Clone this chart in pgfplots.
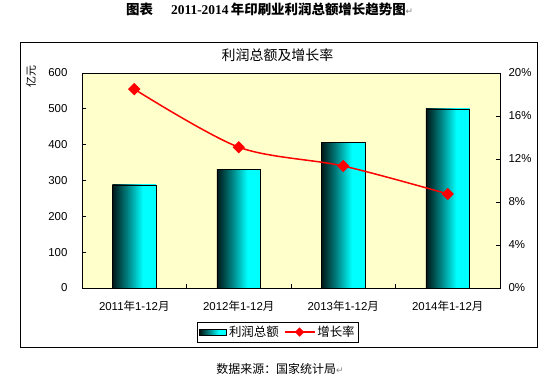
\documentclass[border=0pt]{standalone}
\usepackage{fontspec}
\setmainfont{Liberation Sans}
\newfontfamily\cjk{Noto Sans CJK SC}
\newfontfamily\tnr{Liberation Serif}
\newfontfamily\dejavu{DejaVu Sans}
\usepackage{pgfplots}
\pgfplotsset{compat=1.18}

\definecolor{plotbg}{RGB}{255,255,204}
\definecolor{bardark}{RGB}{0,22,22}
\definecolor{barmid}{RGB}{0,128,128}
\definecolor{barcyan}{RGB}{0,255,255}
\pgfdeclarehorizontalshading{barshade}{100bp}{color(0bp)=(bardark); color(25bp)=(bardark); color(42bp)=(barmid); color(60bp)=(barcyan); color(100bp)=(barcyan)}

\pgfplotsset{
  barleg/.style={legend image code/.code={\path[draw=black, line width=0.6bp, shade, shading=barshade] (0bp,-3bp) rectangle (27bp,3bp);}},
  lineleg/.style={legend image code/.code={\draw[mark repeat=2, mark phase=2, ##1] plot coordinates {(0bp,0bp) (15bp,0bp) (30bp,0bp)};}},
  mybar/.style={ybar, bar width=0.42, draw=black, line width=0.6bp, shade, shading=barshade},
}

\begin{document}
\begin{tikzpicture}
\path (-82bp,-90bp) rectangle (460bp,288bp);
\draw[black, line width=0.9bp] (-62bp,-59bp) rectangle (455bp,246bp);
\node[anchor=west, inner sep=0] at (44bp,279bp) {\fontsize{13.5}{15}\selectfont\bfseries{\cjk 图表}\hspace{18bp}{\tnr 2011-2014}\,{\cjk 年印刷业利润总额增长趋势图}{\mdseries\dejavu\color{gray}\fontsize{9}{10}\selectfont ↵}};
\node[inner sep=0] at (198bp,-80.5bp) {\cjk\fontsize{12}{13}\selectfont 数据来源：国家统计局{\dejavu\color{gray}\fontsize{9}{10}\selectfont ↵}};
\node[inner sep=0] at (195.5bp,233bp) {\cjk\fontsize{14}{16}\selectfont 利润总额及增长率};
\node[inner sep=0, rotate=90] at (-51bp,211bp) {\cjk\fontsize{11}{12}\selectfont 亿元};

\begin{axis}[
  scale only axis,
  width=418bp, height=215bp,
  xmin=0.5, xmax=4.5, ymin=0, ymax=600,
  ytick={0,100,...,600},
  xtick pos=left, ytick pos=left,
  axis line style={black, line width=0.7bp},
  axis background/.style={fill=plotbg},
  tick style={black, line width=0.7bp},
  tick align=inside, major tick length=4bp,
  xtick={1.5,2.5,3.5}, xticklabels={},
  extra x ticks={1,2,3,4},
  extra x tick labels={2011{\cjk 年}1-12{\cjk 月},2012{\cjk 年}1-12{\cjk 月},2013{\cjk 年}1-12{\cjk 月},2014{\cjk 年}1-12{\cjk 月}},
  extra x tick style={major tick length=0pt, xticklabel style={yshift=-9bp}},
  /pgf/number format/assume math mode=true,
  tick label style={font=\fontsize{11.5}{13}\selectfont},
  yticklabel style={xshift=-11bp},
  legend style={at={(0.469,-0.205)}, anchor=center, draw=black, line width=0.7bp, fill=white,
    font=\cjk\fontsize{12.5}{14}\selectfont, inner sep=2bp,
    /tikz/every even column/.append style={column sep=3bp}},
  legend columns=2,
]
\addplot[mybar, barleg] coordinates {(1,288)};
\addlegendentry{利润总额}
\addplot[mybar, forget plot] coordinates {(2,332)};
\addplot[mybar, forget plot] coordinates {(3,407)};
\addplot[mybar, forget plot] coordinates {(4,500)};
\addlegendimage{red, line width=1.5bp, mark=square*, mark size=2.6bp, mark options={rotate=45}, lineleg}
\addlegendentry{增长率}
\end{axis}

\begin{axis}[
  scale only axis,
  width=418bp, height=215bp,
  xmin=0.5, xmax=4.5, ymin=0, ymax=20,
  ytick={0,4,...,20},
  yticklabel={\pgfmathprintnumber{\tick}\%},
  hide x axis,
  ytick pos=right, yticklabel pos=right,
  axis line style={black, line width=0.7bp},
  tick style={black, line width=0.7bp},
  tick align=inside, major tick length=4bp,
  /pgf/number format/assume math mode=true,
  tick label style={font=\fontsize{11.5}{13}\selectfont},
  yticklabel style={xshift=5bp},
]
\addplot[red, line width=1.5bp, smooth, mark=square*, mark size=3.6bp, mark options={rotate=45}]
  coordinates {(1,18.5) (2,13.1) (3,11.35) (4,8.75)};
\end{axis}
\end{tikzpicture}
\end{document}
